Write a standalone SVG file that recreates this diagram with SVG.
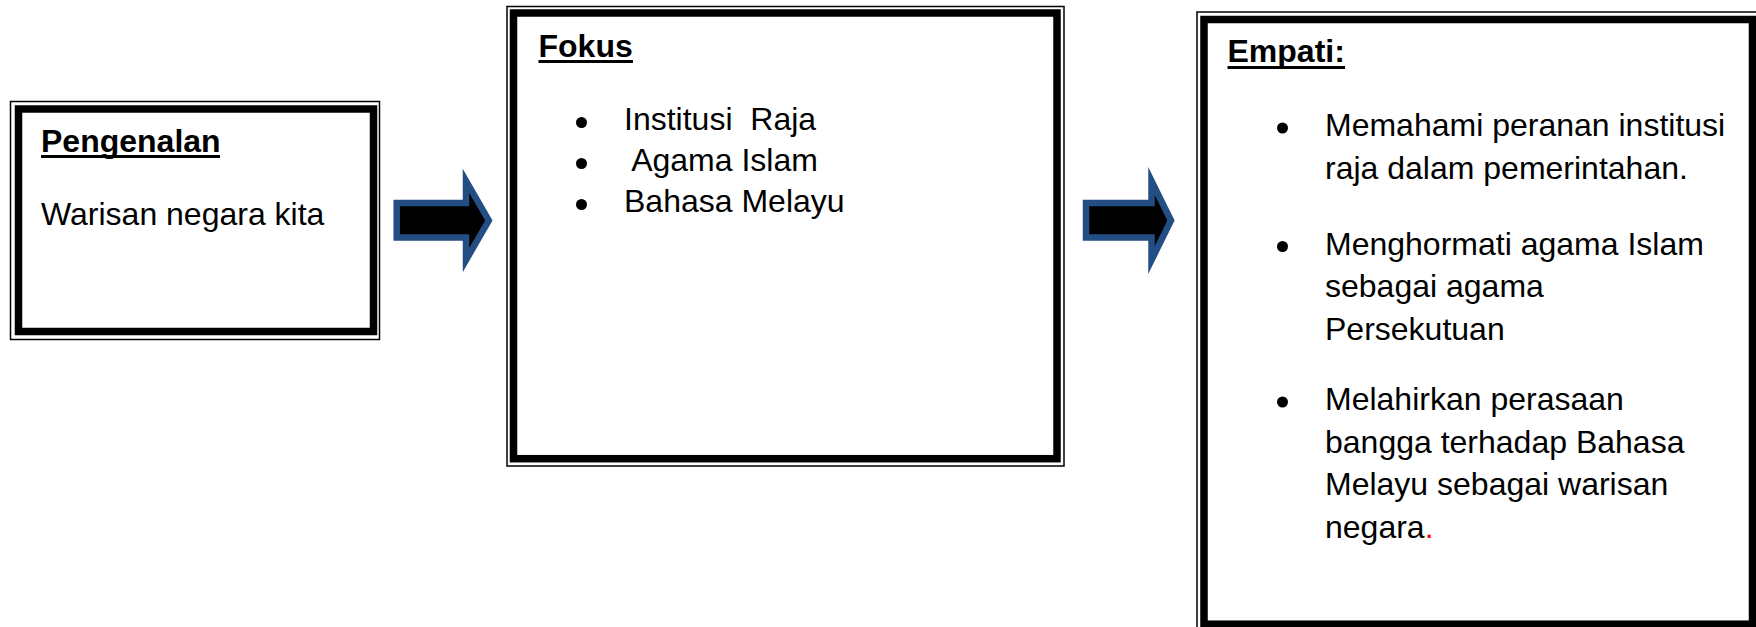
<svg xmlns="http://www.w3.org/2000/svg" width="1756" height="627" viewBox="0 0 1756 627">
<style>
.thin{fill:none;stroke:#000;stroke-width:1.5}
.thick{fill:none;stroke:#000;stroke-width:7.5}
.t{font-family:"Liberation Sans",Arial,sans-serif;font-size:32px;fill:#000}
.b{font-weight:bold}
.ul{stroke:#000;stroke-width:3}
.arrow{fill:#000;stroke:#234E84;stroke-width:6.5;stroke-linejoin:miter;stroke-miterlimit:10}
</style>
<rect x="0" y="0" width="1756" height="627" fill="#fff"/>
<g id="pengenalan">
<rect class="thin" x="10.5" y="101.5" width="369" height="238"/>
<rect class="thick" x="18.5" y="109" width="355" height="222.5"/>
<text class="t b" x="41" y="151.5">Pengenalan</text>
<line class="ul" x1="41" y1="156.5" x2="220" y2="156.5"/>
<text class="t" x="41" y="225">Warisan negara kita</text>
</g>
<g id="fokus">
<rect class="thin" x="507" y="6.5" width="557" height="459.5"/>
<rect class="thick" x="513.5" y="13" width="543.5" height="445.7"/>
<text class="t b" x="538.5" y="56.5">Fokus</text>
<line class="ul" x1="538.5" y1="61.5" x2="633" y2="61.5"/>
<circle cx="581.5" cy="122.5" r="5.5"/>
<circle cx="581.5" cy="163.5" r="5.5"/>
<circle cx="581.5" cy="204.5" r="5.5"/>
<text class="t" x="624" y="130" xml:space="preserve">Institusi  Raja</text>
<text class="t" x="624" y="171" xml:space="preserve"> Agama Islam</text>
<text class="t" x="624" y="212">Bahasa Melayu</text>
</g>
<g id="empati">
<rect class="thin" x="1197" y="12" width="580" height="640"/>
<rect class="thick" x="1204" y="19.5" width="548.5" height="604.7"/>
<text class="t b" x="1227.5" y="61.5">Empati:</text>
<line class="ul" x1="1227.5" y1="67.5" x2="1345" y2="67.5"/>
<circle cx="1282.5" cy="128" r="5.5"/>
<circle cx="1282.5" cy="246.5" r="5.5"/>
<circle cx="1282.5" cy="402" r="5.5"/>
<text class="t" x="1325" y="136">Memahami peranan institusi</text>
<text class="t" x="1325" y="179">raja dalam pemerintahan.</text>
<text class="t" x="1325" y="254.5">Menghormati agama Islam</text>
<text class="t" x="1325" y="297">sebagai agama</text>
<text class="t" x="1325" y="339.5">Persekutuan</text>
<text class="t" x="1325" y="410">Melahirkan perasaan</text>
<text class="t" x="1325" y="452.5">bangga terhadap Bahasa</text>
<text class="t" x="1325" y="495">Melayu sebagai warisan</text>
<text class="t" x="1325" y="537.5">negara<tspan fill="#FF0000">.</tspan></text>
</g>
<g id="connectors">
<polygon class="arrow" points="396.7,203 466,203 466,181 488.8,220.5 466,260 466,237.5 396.7,237.5"/>
<polygon class="arrow" points="1086,203 1151.5,203 1151.5,181 1171,220.5 1151.5,260 1151.5,237.5 1086,237.5"/>
</g>
</svg>
